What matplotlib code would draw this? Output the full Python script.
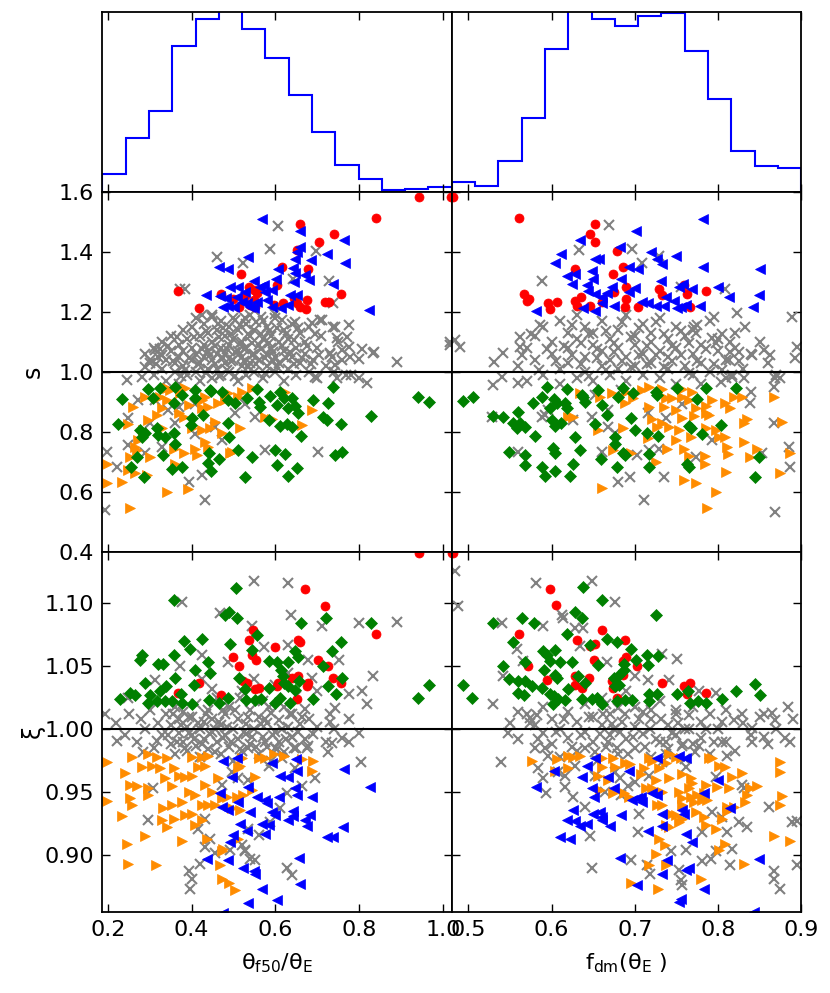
import numpy as np
import matplotlib
matplotlib.use('Agg')
import matplotlib.pyplot as plt

# ---------------- histogram values (normalised frequency per bin) ----------------
hist_theta = [0.096, 0.298, 0.448, 0.811, 0.959, 1.02, 0.902, 0.743, 0.539, 0.330,
              0.146, 0.069, 0.009, 0.017, 0.028]
hist_fdm = [0.056, 0.033, 0.172, 0.407, 0.791, 1.02, 0.959, 0.919, 0.974, 0.994,
            0.781, 0.515, 0.226, 0.143, 0.130]

# ---------------- panel: s vs theta_f50/theta_E ----------------
A_red = [(0.943,1.584),(1.019,1.584),(0.840,1.511),(0.660,1.494),(0.740,1.459),(0.704,1.432),
         (0.651,1.405),(0.616,1.348),(0.678,1.341),(0.519,1.326),(0.604,1.289),(0.368,1.270),
         (0.470,1.259),(0.537,1.281),(0.548,1.272),(0.556,1.261),(0.528,1.252),(0.500,1.241),
         (0.548,1.239),(0.552,1.217),(0.514,1.217),(0.618,1.228),(0.645,1.245),(0.651,1.230),
         (0.658,1.217),(0.673,1.208),(0.675,1.239),(0.719,1.233),(0.728,1.233),(0.756,1.259),
         (0.417,1.211),(0.596,1.222),(0.540,1.222)]
A_blue = [(0.569,1.509),(0.658,1.470),(0.763,1.439),(0.766,1.364),(0.723,1.392),(0.658,1.415),
          (0.653,1.400),(0.646,1.376),(0.643,1.345),(0.647,1.330),(0.644,1.300),(0.607,1.341),
          (0.602,1.310),(0.535,1.383),(0.465,1.350),(0.486,1.343),(0.685,1.372),(0.680,1.306),
          (0.671,1.322),(0.739,1.292),(0.550,1.303),(0.573,1.289),(0.564,1.283),(0.492,1.283),
          (0.512,1.281),(0.528,1.267),(0.591,1.272),(0.576,1.267),(0.435,1.255),(0.468,1.252),
          (0.483,1.245),(0.508,1.250),(0.521,1.233),(0.532,1.228),(0.556,1.233),(0.474,1.217),
          (0.488,1.219),(0.502,1.217),(0.540,1.217),(0.548,1.211),(0.591,1.217),(0.613,1.211),
          (0.631,1.222),(0.653,1.256),(0.825,1.206),(0.580,1.239),(0.635,1.256)]
A_green = [(0.233,0.908),(0.225,0.825),(0.297,0.943),(0.325,0.945),(0.309,0.911),(0.357,0.895),
           (0.377,0.922),(0.409,0.939),(0.409,0.911),(0.444,0.939),(0.472,0.933),(0.488,0.906),
           (0.504,0.895),(0.532,0.913),(0.556,0.941),(0.560,0.900),(0.564,0.881),(0.588,0.919),
           (0.604,0.889),(0.612,0.933),(0.620,0.911),(0.639,0.911),(0.630,0.878),(0.647,0.886),
           (0.655,0.861),(0.691,0.906),(0.727,0.897),(0.737,0.948),(0.715,0.848),(0.723,0.839),
           (0.757,0.826),(0.829,0.852),(0.942,0.917),(0.967,0.900),(0.428,0.856),(0.400,0.845),
           (0.399,0.822),(0.487,0.828),(0.490,0.783),(0.512,0.739),(0.544,0.717),(0.600,0.739),
           (0.623,0.726),(0.604,0.689),(0.630,0.652),(0.652,0.680),(0.528,0.650),(0.612,0.819),
           (0.628,0.826),(0.639,0.817),(0.661,0.786),(0.584,0.839),(0.442,0.728),(0.447,0.670),
           (0.440,0.695),(0.466,0.708),(0.378,0.683),(0.353,0.675),(0.361,0.759),(0.359,0.797),
           (0.337,0.783),(0.333,0.722),(0.317,0.811),(0.321,0.789),(0.289,0.795),(0.277,0.806),
           (0.281,0.783),(0.269,0.717),(0.256,0.683),(0.287,0.648),(0.743,0.722),(0.759,0.733),
           (0.361,0.948),(0.446,0.937)]
A_orange = [(0.289,0.917),(0.261,0.881),(0.249,0.826),(0.198,0.694),(0.198,0.628),(0.233,0.633),
            (0.253,0.545),(0.341,0.600),(0.391,0.609),(0.293,0.656),(0.249,0.672),(0.264,0.661),
            (0.253,0.717),(0.269,0.739),(0.301,0.717),(0.297,0.839),(0.317,0.856),(0.329,0.878),
            (0.341,0.906),(0.341,0.945),(0.317,0.911),(0.385,0.945),(0.393,0.889),(0.424,0.906),
            (0.432,0.917),(0.424,0.878),(0.440,0.883),(0.464,0.895),(0.480,0.906),(0.488,0.928),
            (0.520,0.933),(0.512,0.917),(0.369,0.861),(0.381,0.850),(0.400,0.811),(0.424,0.806),
            (0.444,0.811),(0.456,0.833),(0.472,0.795),(0.496,0.733),(0.492,0.728),(0.408,0.744),
            (0.412,0.722),(0.357,0.744),(0.361,0.694),(0.383,0.728),(0.432,0.767),(0.440,0.750),
            (0.516,0.811),(0.576,0.850),(0.592,0.844),(0.663,0.822),(0.687,0.872),(0.623,0.933),
            (0.544,0.945),(0.329,0.811),(0.285,0.806),(0.273,0.772),(0.265,0.750),(0.373,0.928),
            (0.349,0.939),(0.325,0.917)]
A_gray = [(0.29,1.06),(0.30,1.03),(0.31,1.08),(0.31,0.99),(0.32,1.05),(0.33,1.01),(0.33,1.10),
          (0.34,1.04),(0.34,0.97),(0.35,1.07),(0.35,1.12),(0.36,1.00),(0.36,1.03),(0.37,1.09),
          (0.37,1.05),(0.37,0.96),(0.38,1.14),(0.38,1.02),(0.38,1.07),(0.39,0.99),(0.39,1.11),
          (0.40,1.04),(0.40,1.15),(0.40,1.08),(0.41,1.00),(0.41,1.06),(0.41,1.18),(0.42,1.12),
          (0.42,1.03),(0.42,0.97),(0.43,1.09),(0.43,1.05),(0.43,1.16),(0.44,1.01),(0.44,1.13),
          (0.44,1.07),(0.45,0.98),(0.45,1.10),(0.45,1.04),(0.45,1.19),(0.46,1.06),(0.46,1.14),
          (0.46,1.01),(0.47,1.08),(0.47,1.17),(0.47,0.99),(0.48,1.03),(0.48,1.12),(0.48,1.06),
          (0.49,1.15),(0.49,1.00),(0.49,1.09),(0.50,1.04),(0.50,1.18),(0.50,1.11),(0.51,0.97),
          (0.51,1.07),(0.51,1.14),(0.52,1.02),(0.52,1.10),(0.52,1.05),(0.53,1.16),(0.53,0.99),
          (0.53,1.08),(0.54,1.12),(0.54,1.03),(0.54,1.19),(0.55,1.06),(0.55,1.00),(0.55,1.14),
          (0.56,1.09),(0.56,1.04),(0.57,1.17),(0.57,0.98),(0.57,1.11),(0.58,1.06),(0.58,1.02),
          (0.58,1.15),(0.59,1.08),(0.59,1.12),(0.60,1.00),(0.60,1.05),(0.60,1.18),(0.61,1.10),
          (0.61,1.03),(0.62,1.14),(0.62,1.07),(0.62,0.97),(0.63,1.01),(0.63,1.11),(0.64,1.05),
          (0.64,1.16),(0.65,1.08),(0.65,0.99),(0.66,1.13),(0.66,1.03),(0.67,1.06),(0.67,1.10),
          (0.68,1.00),(0.68,1.15),(0.69,1.04),(0.70,1.08),(0.70,0.98),(0.71,1.12),(0.72,1.02),
          (0.73,1.06),(0.74,1.00),(0.75,1.10),(0.76,1.04),(0.77,0.99),
          (0.385,1.005),(0.395,1.045),(0.405,1.115),(0.415,1.025),(0.425,1.075),(0.435,0.995),
          (0.435,1.135),(0.445,1.055),(0.455,1.085),(0.455,1.025),(0.465,1.115),(0.465,0.985),
          (0.475,1.045),(0.475,1.145),(0.485,1.075),(0.485,1.005),(0.495,1.125),(0.495,1.035),
          (0.505,1.065),(0.505,0.985),(0.515,1.095),(0.515,1.155),(0.525,1.035),(0.525,1.075),
          (0.535,1.125),(0.535,1.015),(0.545,1.055),(0.545,1.095),(0.555,1.165),(0.555,1.025),
          (0.565,1.075),(0.565,1.125),(0.575,1.045),(0.575,0.995),(0.585,1.095),(0.585,1.135),
          (0.595,1.035),(0.595,1.065),(0.605,1.145),(0.605,1.015),(0.615,1.085),(0.625,1.045),
          (0.625,1.125),(0.635,1.065),(0.645,1.025),(0.645,1.105),(0.655,1.145),(0.665,1.045),
          (0.675,1.085),(0.685,1.025),(0.695,1.125),(0.705,1.055),(0.355,1.035),(0.345,1.085),
          (0.365,1.115),(0.325,1.075),(0.315,1.025),(0.375,0.985),
          (0.607,1.487),(0.588,1.410),(0.462,1.383),(0.524,1.361),(0.697,1.403),(0.729,1.303),
          (0.373,1.275),(0.385,1.275),(0.643,1.310),(0.737,1.228),(1.017,1.100),(1.017,1.089),
          (0.890,1.033),(0.834,1.063),(0.775,1.156),(0.771,1.117),(0.747,1.111),(0.739,1.150),
          (0.708,1.172),(0.731,1.061),(0.779,1.050),(0.806,1.075),
          (0.245,0.972),(0.281,0.983),(0.273,0.906),(0.249,0.845),(0.198,0.733),(0.221,0.683),
          (0.249,0.756),(0.194,0.539),(0.432,0.572),(0.393,0.633),(0.424,0.656),(0.576,0.739),
          (0.703,0.733),(0.819,0.961),(0.799,0.978),(0.747,0.978),(0.695,0.983),(0.743,1.022),
          (0.313,0.906),(0.345,0.872),(0.369,0.883),(0.408,0.894),(0.504,0.861),(0.528,0.894),
          (0.552,0.850),(0.472,0.772),(0.408,0.794),(0.361,0.828),(0.456,0.817),(0.329,0.750),
          (0.289,0.728),(0.300,0.830),(0.400,1.150),(0.424,1.189),(0.448,1.183),(0.464,1.160),
          (0.504,1.172),(0.528,1.178),(0.567,1.183),(0.600,1.194),(0.616,1.172),(0.647,1.167),
          (0.687,1.161),(0.711,1.172),(0.743,1.150),(0.313,1.072),(0.329,1.056),(0.301,1.039),
          (0.289,1.017),(0.735,1.050),(0.759,1.072),(0.775,1.083),(0.835,1.067),(0.799,1.044),
          (0.780,0.990)]

# ---------------- panel: s vs f_dm ----------------
B_red = [(0.482,1.583),(0.561,1.511),(0.652,1.494),(0.646,1.459),(0.652,1.433),(0.678,1.403),
         (0.686,1.349),(0.628,1.341),(0.674,1.325),(0.567,1.259),(0.573,1.241),(0.571,1.235),
         (0.596,1.230),(0.598,1.209),(0.606,1.233),(0.628,1.236),(0.635,1.248),(0.630,1.219),
         (0.646,1.220),(0.675,1.265),(0.690,1.281),(0.690,1.241),(0.688,1.217),(0.704,1.215),
         (0.729,1.275),(0.733,1.256),(0.759,1.289),(0.763,1.259),(0.766,1.215),(0.786,1.270),
         (0.661,1.233)]
B_blue = [(0.782,1.509),(0.702,1.469),(0.634,1.438),(0.611,1.392),(0.604,1.364),(0.682,1.415),
          (0.720,1.398),(0.727,1.375),(0.733,1.359),(0.750,1.385),(0.782,1.350),(0.851,1.342),
          (0.652,1.376),(0.657,1.376),(0.648,1.335),(0.650,1.308),(0.628,1.326),(0.619,1.318),
          (0.624,1.292),(0.642,1.289),(0.644,1.269),(0.693,1.348),(0.704,1.341),(0.684,1.310),
          (0.732,1.302),(0.700,1.280),(0.693,1.267),(0.672,1.283),(0.666,1.261),(0.661,1.250),
          (0.652,1.259),(0.753,1.283),(0.758,1.291),(0.769,1.276),(0.800,1.281),(0.813,1.248),
          (0.849,1.256),(0.842,1.215),(0.778,1.219),(0.761,1.222),(0.755,1.215),(0.751,1.212),
          (0.747,1.236),(0.738,1.248),(0.735,1.220),(0.726,1.220),(0.716,1.228),(0.709,1.233),
          (0.675,1.220),(0.652,1.203),(0.638,1.211),(0.581,1.203),(0.660,1.228)]
B_green = [(0.494,0.902),(0.505,0.917),(0.530,0.853),(0.542,0.850),(0.554,0.828),(0.560,0.867),
           (0.562,0.828),(0.568,0.817),(0.558,0.811),(0.578,0.897),(0.580,0.786),(0.588,0.917),
           (0.594,0.948),(0.598,0.878),(0.603,0.908),(0.606,0.895),(0.616,0.895),(0.618,0.878),
           (0.600,0.839),(0.604,0.819),(0.611,0.830),(0.618,0.941),(0.638,0.917),(0.640,0.900),
           (0.636,0.922),(0.660,0.889),(0.656,0.939),(0.666,0.856),(0.652,0.826),(0.676,0.783),
           (0.676,0.759),(0.686,0.945),(0.680,0.917),(0.696,0.845),(0.700,0.806),(0.698,0.928),
           (0.715,0.795),(0.728,0.786),(0.725,0.933),(0.727,0.922),(0.751,0.945),(0.765,0.819),
           (0.767,0.811),(0.775,0.910),(0.781,0.794),(0.786,0.945),(0.804,0.822),(0.822,0.946),
           (0.849,0.717),(0.844,0.648),(0.765,0.683),(0.763,0.694),(0.717,0.683),(0.717,0.726),
           (0.686,0.730),(0.688,0.722),(0.678,0.683),(0.659,0.709),(0.634,0.739),(0.628,0.783),
           (0.626,0.694),(0.622,0.652),(0.604,0.669),(0.592,0.652),(0.588,0.683),(0.568,0.689),
           (0.568,0.722),(0.549,0.733),(0.604,0.728),(0.602,0.745)]
B_orange = [(0.660,0.611),(0.787,0.545),(0.797,0.600),(0.759,0.639),(0.773,0.630),(0.810,0.667),
            (0.874,0.661),(0.887,0.728),(0.839,0.717),(0.847,0.741),(0.831,0.767),(0.811,0.750),
            (0.812,0.726),(0.784,0.719),(0.784,0.694),(0.765,0.719),(0.759,0.741),(0.749,0.772),
            (0.739,0.744),(0.725,0.700),(0.674,0.739),(0.696,0.728),(0.656,0.806),(0.686,0.814),
            (0.721,0.844),(0.727,0.817),(0.733,0.828),(0.741,0.817),(0.753,0.806),(0.767,0.783),
            (0.785,0.811),(0.801,0.783),(0.797,0.806),(0.809,0.783),(0.835,0.844),(0.831,0.828),
            (0.877,0.833),(0.867,0.915),(0.829,0.915),(0.819,0.915),(0.809,0.895),(0.815,0.878),
            (0.793,0.906),(0.785,0.886),(0.785,0.861),(0.773,0.878),(0.765,0.906),(0.757,0.917),
            (0.769,0.933),(0.757,0.941),(0.745,0.911),(0.749,0.872),(0.735,0.883),(0.737,0.911),
            (0.717,0.883),(0.709,0.939),(0.717,0.948),(0.733,0.944),(0.698,0.911),(0.688,0.895),
            (0.690,0.933),(0.672,0.928),(0.658,0.917),(0.634,0.928),(0.620,0.850),(0.626,0.850),
            (0.757,0.845),(0.771,0.852),(0.789,0.856),(0.716,0.778)]
B_gray = [(0.56,1.02),(0.57,1.08),(0.57,0.97),(0.58,1.12),(0.58,1.04),(0.59,0.99),(0.59,1.15),
          (0.60,1.06),(0.60,1.10),(0.61,1.01),(0.61,1.17),(0.61,0.96),(0.62,1.08),(0.62,1.13),
          (0.62,1.03),(0.63,0.98),(0.63,1.11),(0.63,1.19),(0.64,1.05),(0.64,1.15),(0.64,1.00),
          (0.65,1.09),(0.65,1.13),(0.65,0.97),(0.66,1.02),(0.66,1.07),(0.66,1.17),(0.67,1.11),
          (0.67,0.99),(0.67,1.04),(0.68,1.14),(0.68,1.08),(0.68,1.01),(0.69,1.19),(0.69,1.05),
          (0.69,0.97),(0.70,1.12),(0.70,1.02),(0.70,1.09),(0.71,1.16),(0.71,1.06),(0.71,0.99),
          (0.72,1.03),(0.72,1.13),(0.72,1.10),(0.73,1.07),(0.73,0.98),(0.73,1.18),(0.74,1.01),
          (0.74,1.11),(0.74,1.05),(0.75,1.15),(0.75,0.96),(0.75,1.08),(0.76,1.02),(0.76,1.12),
          (0.77,1.06),(0.77,0.99),(0.77,1.14),(0.78,1.09),(0.78,1.03),(0.79,1.17),(0.79,1.00),
          (0.80,1.07),(0.80,1.11),(0.81,1.04),(0.81,0.98),(0.82,1.13),(0.82,1.08),(0.83,1.01),
          (0.84,1.06),(0.85,1.10),(0.86,1.03),(0.87,0.99),
          (0.605,1.035),(0.615,1.085),(0.625,1.055),(0.625,1.155),(0.635,1.025),(0.635,1.095),
          (0.645,1.125),(0.645,0.985),(0.655,1.045),(0.655,1.075),(0.665,1.135),(0.665,1.005),
          (0.675,1.065),(0.675,1.095),(0.685,1.035),(0.685,1.165),(0.695,1.115),(0.695,1.015),
          (0.705,1.055),(0.705,1.145),(0.715,1.085),(0.715,1.025),(0.725,1.055),(0.725,1.165),
          (0.735,1.125),(0.735,1.015),(0.745,1.085),(0.745,1.035),(0.755,1.135),(0.755,1.055),
          (0.765,0.995),(0.765,1.095),(0.775,1.035),(0.775,1.155),(0.785,1.075),(0.795,1.025),
          (0.805,1.125),(0.585,1.005),(0.595,1.075),(0.575,1.125),(0.565,1.055),(0.815,1.065),
          (0.825,1.035),
          (0.669,1.488),(0.633,1.406),(0.697,1.410),(0.589,1.303),(0.709,1.364),(0.729,1.386),
          (0.755,1.283),(0.809,1.275),(0.823,1.197),(0.833,1.150),(0.889,1.183),(0.895,1.083),
          (0.484,1.106),(0.490,1.083),(0.531,1.033),(0.542,1.061),(0.562,1.083),(0.586,1.156),
          (0.795,1.183),(0.773,1.128),(0.793,1.111),(0.562,1.117),(0.771,1.150),(0.797,1.095),
          (0.815,1.100),(0.825,1.067),(0.813,1.039),(0.805,1.006),(0.817,0.989),(0.855,1.072),
          (0.863,1.056),(0.841,1.056),(0.893,1.045),
          (0.530,0.956),(0.540,0.983),(0.560,0.961),(0.588,0.850),(0.626,0.839),(0.660,0.733),
          (0.680,0.633),(0.694,0.650),(0.711,0.572),(0.735,0.650),(0.703,0.722),(0.717,0.739),
          (0.773,0.717),(0.853,0.728),(0.885,0.750),(0.887,0.683),(0.869,0.533),(0.867,0.828),
          (0.867,0.950),(0.869,0.978),(0.875,0.978),(0.839,0.895),(0.831,0.978),(0.793,0.772),
          (0.729,0.744),(0.676,0.795),(0.668,0.817),(0.648,0.850),(0.668,0.872),(0.596,0.872),
          (0.592,0.856),(0.652,0.922),(0.684,0.939),(0.716,0.861),(0.737,0.845),(0.757,0.894),
          (0.560,0.733),(0.528,0.850),(0.804,0.966),(0.817,0.984),(0.780,0.960),(0.840,0.933)]

# ---------------- panel: xi vs theta_f50/theta_E ----------------
C_red = [(0.944,1.140),(1.021,1.140),(0.671,1.111),(0.719,1.098),(0.841,1.076),(0.547,1.079),
         (0.538,1.071),(0.498,1.057),(0.544,1.059),(0.553,1.055),(0.600,1.065),(0.655,1.071),
         (0.659,1.069),(0.703,1.055),(0.727,1.050),(0.739,1.041),(0.757,1.037),(0.514,1.050),
         (0.522,1.038),(0.532,1.037),(0.418,1.037),(0.367,1.029),(0.471,1.027),(0.552,1.032),
         (0.561,1.033),(0.604,1.034),(0.639,1.041),(0.655,1.042),(0.675,1.034),(0.679,1.037),
         (0.651,1.024),(0.606,1.037)]
C_green = [(0.357,1.103),(0.506,1.112),(0.480,1.091),(0.490,1.093),(0.508,1.088),(0.557,1.075),
           (0.492,1.068),(0.544,1.063),(0.426,1.072),(0.381,1.070),(0.397,1.064),(0.358,1.059),
           (0.281,1.059),(0.277,1.055),(0.321,1.052),(0.333,1.052),(0.409,1.047),(0.440,1.053),
           (0.444,1.045),(0.361,1.041),(0.288,1.037),(0.338,1.034),(0.325,1.030),(0.407,1.035),
           (0.375,1.028),(0.378,1.021),(0.401,1.020),(0.353,1.022),(0.337,1.022),(0.317,1.022),
           (0.301,1.027),(0.297,1.021),(0.253,1.029),(0.265,1.027),(0.229,1.024),(0.442,1.023),
           (0.466,1.021),(0.487,1.025),(0.514,1.041),(0.528,1.032),(0.530,1.023),(0.552,1.023),
           (0.566,1.024),(0.585,1.033),(0.584,1.054),(0.605,1.053),(0.614,1.047),(0.618,1.042),
           (0.631,1.053),(0.647,1.062),(0.655,1.057),(0.661,1.084),(0.721,1.088),(0.757,1.069),
           (0.735,1.062),(0.715,1.050),(0.727,1.034),(0.745,1.028),(0.759,1.041),(0.691,1.024),
           (0.657,1.038),(0.647,1.031),(0.631,1.034),(0.635,1.021),(0.600,1.021),(0.612,1.025),
           (0.620,1.037),(0.829,1.084),(0.942,1.025),(0.967,1.035)]
C_orange = [(0.198,0.974),(0.198,0.943),(0.241,0.965),(0.253,0.956),(0.269,0.955),(0.253,0.945),
            (0.257,0.940),(0.233,0.931),(0.288,0.915),(0.247,0.909),(0.249,0.893),(0.315,0.892),
            (0.378,0.911),(0.341,0.922),(0.329,0.928),(0.297,0.953),(0.297,0.948),(0.305,0.971),
            (0.281,0.970),(0.257,0.978),(0.297,0.980),(0.317,0.978),(0.341,0.977),(0.325,0.969),
            (0.337,0.961),(0.357,0.969),(0.353,0.955),(0.369,0.963),(0.385,0.962),(0.393,0.950),
            (0.400,0.978),(0.416,0.970),(0.432,0.971),(0.424,0.978),(0.440,0.979),(0.400,0.963),
            (0.408,0.948),(0.424,0.940),(0.377,0.942),(0.353,0.940),(0.333,0.937),(0.385,0.932),
            (0.408,0.924),(0.424,0.928),(0.400,0.933),(0.357,0.929),(0.432,0.956),(0.440,0.940),
            (0.456,0.940),(0.472,0.945),(0.484,0.946),(0.496,0.937),(0.464,0.961),(0.448,0.950),
            (0.436,0.913),(0.472,0.903),(0.475,0.905),(0.468,0.892),(0.472,0.881),(0.490,0.878),
            (0.504,0.872),(0.512,0.969),(0.516,0.971),(0.524,0.948),(0.544,0.952),(0.552,0.962),
            (0.560,0.977),(0.576,0.977),(0.596,0.980),(0.620,0.979),(0.663,0.976),(0.691,0.975),
            (0.687,0.967),(0.520,0.977),(0.508,0.946),(0.512,0.913),(0.516,0.936)]
C_blue = [(0.476,0.975),(0.508,0.977),(0.592,0.973),(0.650,0.976),(0.651,0.967),(0.631,0.962),
          (0.612,0.963),(0.765,0.968),(0.826,0.954),(0.496,0.962),(0.536,0.954),(0.468,0.949),
          (0.512,0.942),(0.556,0.946),(0.576,0.944),(0.580,0.941),(0.608,0.946),(0.646,0.953),
          (0.651,0.948),(0.687,0.946),(0.472,0.938),(0.488,0.936),(0.540,0.934),(0.592,0.934),
          (0.600,0.932),(0.643,0.935),(0.643,0.931),(0.631,0.928),(0.682,0.932),(0.671,0.928),
          (0.675,0.923),(0.568,0.925),(0.584,0.924),(0.516,0.925),(0.532,0.919),(0.576,0.917),
          (0.500,0.916),(0.492,0.910),(0.436,0.897),(0.488,0.896),(0.522,0.890),(0.548,0.887),
          (0.552,0.885),(0.657,0.898),(0.658,0.877),(0.568,0.873),(0.604,0.864),(0.534,0.862),
          (0.476,0.854),(0.723,0.914),(0.739,0.914),(0.761,0.922)]
C_gray = [(0.22,1.005),(0.24,0.995),(0.25,1.012),(0.27,0.990),(0.28,1.008),(0.29,1.000),
          (0.30,1.015),(0.31,0.985),(0.32,1.005),(0.33,0.995),(0.34,1.012),(0.35,0.988),
          (0.35,1.003),(0.36,0.980),(0.36,1.018),(0.37,0.997),(0.37,1.008),(0.38,0.990),
          (0.38,1.014),(0.39,0.983),(0.39,1.002),(0.40,0.995),(0.40,1.010),(0.41,0.987),
          (0.41,1.020),(0.42,1.000),(0.42,0.978),(0.43,1.006),(0.43,0.992),(0.44,1.015),
          (0.44,0.984),(0.45,0.998),(0.45,1.008),(0.46,0.990),(0.46,1.025),(0.47,1.003),
          (0.47,0.980),(0.48,1.012),(0.48,0.995),(0.49,0.986),(0.49,1.018),(0.50,1.000),
          (0.50,0.975),(0.51,1.008),(0.51,0.992),(0.52,1.030),(0.52,0.983),(0.53,1.004),
          (0.53,0.996),(0.54,1.015),(0.54,0.988),(0.55,1.000),(0.55,1.040),(0.56,0.980),
          (0.56,1.010),(0.57,0.994),(0.57,1.022),(0.58,1.005),(0.58,0.986),(0.59,1.013),
          (0.59,0.975),(0.60,0.998),(0.60,1.035),(0.61,1.007),(0.61,0.990),(0.62,1.018),
          (0.62,0.982),(0.63,1.002),(0.63,1.045),(0.64,0.994),(0.64,1.012),(0.65,1.026),
          (0.65,0.985),(0.66,1.004),(0.67,0.992),(0.67,1.016),(0.68,1.008),(0.69,0.996),
          (0.70,1.030),(0.70,1.002),(0.72,0.990),(0.73,1.012),(0.74,1.000),(0.76,0.993),
          (0.345,0.995),(0.355,1.012),(0.365,0.990),(0.375,1.003),(0.385,0.985),(0.395,1.010),
          (0.405,0.992),(0.415,1.005),(0.425,0.988),(0.435,1.012),(0.445,0.996),(0.455,0.982),
          (0.465,1.006),(0.475,0.993),(0.485,1.002),(0.495,0.990),(0.505,1.015),(0.515,0.984),
          (0.525,0.998),(0.535,1.010),(0.545,0.994),(0.555,0.986),(0.565,1.004),(0.575,0.990),
          (0.585,1.018),(0.595,0.995),(0.605,0.984),(0.615,1.000),(0.625,0.992),(0.635,1.012),
          (0.645,0.985),(0.655,0.998),(0.665,1.010),(0.675,0.985),(0.455,1.000),(0.475,1.015),
          (0.395,0.997),(0.535,0.985),(0.575,1.008),(0.515,1.025),
          (0.550,1.118),(0.630,1.116),(0.377,1.101),(0.468,1.092),(0.638,1.091),(0.711,1.082),
          (0.544,1.082),(0.800,1.084),(0.890,1.085),(0.572,1.065),(0.631,1.067),(0.679,1.055),
          (0.751,1.055),(0.834,1.042),(0.807,1.030),(0.819,1.020),(0.775,1.028),(0.743,1.017),
          (0.775,1.008),(0.731,1.006),(0.687,1.041),(0.424,1.059),(0.373,1.050),(0.313,1.039),
          (0.249,1.025),(0.194,1.012),(0.424,1.040),(0.488,1.053),(0.448,1.032),
          (0.221,0.991),(0.317,0.991),(0.285,0.982),(0.679,0.987),(0.727,0.982),(0.735,0.989),
          (0.775,0.990),(0.799,0.997),(0.805,0.974),(0.695,0.961),(0.663,0.955),(0.627,0.949),
          (0.612,0.937),(0.588,0.926),(0.560,0.916),(0.536,0.921),(0.520,0.908),(0.528,0.903),
          (0.540,0.897),(0.552,0.896),(0.627,0.890),(0.639,0.884),(0.432,0.929),(0.416,0.921),
          (0.444,0.913),(0.432,0.906),(0.420,0.893),(0.393,0.887),(0.401,0.881),(0.397,0.873),
          (0.297,0.928),(0.309,0.953),(0.472,0.956),(0.496,0.966),(0.512,0.961),(0.536,0.960),
          (0.584,0.971),(0.616,0.977),(0.647,0.969),(0.492,0.904),(0.528,0.904),(0.456,0.902),
          (0.640,0.994),(0.600,0.985)]

# ---------------- panel: xi vs f_dm ----------------
D_red = [(0.481,1.140),(0.598,1.111),(0.605,1.099),(0.561,1.076),(0.630,1.071),(0.646,1.066),
         (0.652,1.068),(0.660,1.079),(0.688,1.071),(0.651,1.055),(0.689,1.057),(0.686,1.054),
         (0.703,1.050),(0.572,1.050),(0.628,1.042),(0.645,1.041),(0.595,1.039),(0.628,1.035),
         (0.636,1.033),(0.672,1.038),(0.674,1.033),(0.686,1.043),(0.678,1.025),(0.733,1.037),
         (0.759,1.034),(0.766,1.037),(0.763,1.028),(0.786,1.029)]
D_green = [(0.494,1.035),(0.504,1.025),(0.529,1.084),(0.565,1.088),(0.579,1.084),(0.638,1.113),
           (0.660,1.103),(0.725,1.091),(0.628,1.093),(0.636,1.088),(0.619,1.076),(0.554,1.069),
           (0.542,1.050),(0.549,1.040),(0.568,1.053),(0.590,1.062),(0.594,1.059),(0.604,1.063),
           (0.598,1.054),(0.610,1.053),(0.625,1.053),(0.646,1.067),(0.666,1.072),(0.678,1.069),
           (0.695,1.064),(0.701,1.055),(0.715,1.059),(0.728,1.058),(0.716,1.051),(0.656,1.051),
           (0.687,1.052),(0.687,1.047),(0.591,1.047),(0.604,1.043),(0.606,1.041),(0.632,1.042),
           (0.640,1.037),(0.675,1.041),(0.681,1.035),(0.560,1.038),(0.568,1.038),(0.576,1.034),
           (0.588,1.033),(0.560,1.029),(0.567,1.027),(0.598,1.028),(0.603,1.026),(0.620,1.032),
           (0.636,1.024),(0.648,1.024),(0.654,1.025),(0.660,1.020),(0.608,1.024),(0.616,1.023),
           (0.602,1.020),(0.678,1.022),(0.688,1.023),(0.697,1.023),(0.717,1.028),(0.727,1.028),
           (0.717,1.022),(0.751,1.028),(0.764,1.030),(0.766,1.021),(0.776,1.022),(0.785,1.021),
           (0.805,1.024),(0.822,1.030),(0.844,1.036),(0.850,1.027),(0.680,1.042),(0.676,1.034)]
D_orange = [(0.577,0.975),(0.606,0.976),(0.620,0.979),(0.626,0.978),(0.634,0.979),(0.604,0.967),
            (0.620,0.969),(0.660,0.977),(0.661,0.970),(0.674,0.977),(0.676,0.970),(0.688,0.973),
            (0.694,0.972),(0.656,0.963),(0.668,0.960),(0.658,0.952),(0.674,0.949),(0.687,0.949),
            (0.693,0.946),(0.708,0.964),(0.711,0.969),(0.717,0.977),(0.721,0.975),(0.729,0.969),
            (0.737,0.973),(0.741,0.980),(0.749,0.978),(0.755,0.977),(0.713,0.953),(0.721,0.953),
            (0.733,0.950),(0.727,0.940),(0.733,0.940),(0.725,0.960),(0.741,0.961),(0.757,0.964),
            (0.767,0.961),(0.769,0.957),(0.765,0.953),(0.753,0.950),(0.757,0.945),(0.767,0.946),
            (0.775,0.948),(0.771,0.942),(0.781,0.944),(0.787,0.944),(0.757,0.940),(0.749,0.932),
            (0.743,0.933),(0.757,0.929),(0.753,0.926),(0.741,0.922),(0.737,0.924),(0.773,0.934),
            (0.783,0.930),(0.785,0.924),(0.797,0.921),(0.785,0.956),(0.783,0.949),(0.789,0.977),
            (0.793,0.977),(0.801,0.971),(0.809,0.970),(0.799,0.954),(0.813,0.953),(0.817,0.962),
            (0.829,0.965),(0.839,0.953),(0.847,0.955),(0.835,0.948),(0.833,0.942),(0.811,0.938),
            (0.811,0.935),(0.819,0.938),(0.805,0.929),(0.875,0.974),(0.875,0.966),(0.877,0.947),
            (0.874,0.940),(0.867,0.915),(0.887,0.911),(0.831,0.893),(0.809,0.909),(0.801,0.904),
            (0.780,0.881),(0.728,0.873),(0.695,0.878),(0.717,0.892),(0.725,0.901),(0.736,0.908),
            (0.729,0.913),(0.737,0.892)]
D_blue = [(0.581,0.954),(0.603,0.967),(0.637,0.962),(0.642,0.971),(0.652,0.977),(0.668,0.962),
          (0.675,0.953),(0.693,0.967),(0.649,0.953),(0.651,0.946),(0.697,0.944),(0.703,0.945),
          (0.709,0.942),(0.708,0.946),(0.721,0.949),(0.727,0.948),(0.626,0.936),(0.618,0.928),
          (0.628,0.927),(0.634,0.923),(0.642,0.925),(0.650,0.933),(0.658,0.934),(0.660,0.930),
          (0.660,0.928),(0.670,0.923),(0.684,0.932),(0.610,0.914),(0.622,0.913),(0.682,0.898),
          (0.716,0.919),(0.733,0.933),(0.733,0.923),(0.757,0.936),(0.759,0.933),(0.761,0.917),
          (0.769,0.910),(0.739,0.896),(0.733,0.885),(0.761,0.888),(0.765,0.890),(0.703,0.876),
          (0.783,0.873),(0.753,0.863),(0.755,0.865),(0.800,0.960),(0.815,0.937),(0.849,0.897),
          (0.843,0.855),(0.783,0.949),(0.761,0.977),(0.753,0.979),(0.727,0.977)]
D_gray = [(0.55,1.005),(0.56,0.992),(0.57,1.012),(0.58,0.985),(0.58,1.003),(0.59,0.997),
          (0.59,1.018),(0.60,0.988),(0.60,1.008),(0.61,0.978),(0.61,1.000),(0.62,1.014),
          (0.62,0.993),(0.63,1.006),(0.63,0.983),(0.64,1.020),(0.64,0.998),(0.65,0.990),
          (0.65,1.010),(0.655,0.975),(0.66,1.003),(0.66,1.025),(0.665,0.986),(0.67,1.012),
          (0.67,0.995),(0.675,1.000),(0.68,0.980),(0.68,1.017),(0.685,1.006),(0.69,0.992),
          (0.69,1.030),(0.70,1.002),(0.70,0.985),(0.71,1.014),(0.71,0.996),(0.72,1.008),
          (0.72,0.978),(0.73,0.990),(0.73,1.022),(0.74,1.003),(0.74,0.984),(0.75,1.012),
          (0.75,0.995),(0.76,1.000),(0.76,0.976),(0.77,1.018),(0.77,0.988),(0.78,1.006),
          (0.78,0.993),(0.79,0.980),(0.79,1.012),(0.80,1.000),(0.81,0.990),(0.81,1.015),
          (0.82,0.983),(0.83,1.005),(0.84,0.995),(0.85,1.010),(0.86,0.988),(0.87,1.000),
          (0.88,0.993),(0.89,1.008),
          (0.605,0.998),(0.615,1.008),(0.625,0.986),(0.635,0.995),(0.645,1.010),(0.652,0.982),
          (0.658,0.996),(0.662,1.012),(0.668,0.990),(0.672,1.004),(0.678,0.985),(0.682,0.998),
          (0.688,1.012),(0.692,0.980),(0.698,0.994),(0.705,1.008),(0.712,0.986),(0.718,1.000),
          (0.725,0.992),(0.732,1.008),(0.738,0.980),(0.745,0.997),(0.752,1.005),(0.758,0.988),
          (0.765,1.000),(0.772,0.982),(0.785,1.000),(0.795,0.990),(0.665,1.020),(0.640,0.985),
          (0.700,1.018),(0.720,1.015),
          (0.484,1.126),(0.581,1.116),(0.649,1.118),(0.676,1.101),(0.540,1.084),(0.590,1.082),
          (0.612,1.091),(0.614,1.088),(0.628,1.080),(0.638,1.080),(0.634,1.066),(0.558,1.064),
          (0.566,1.054),(0.488,1.098),(0.530,1.020),(0.542,1.042),(0.666,1.053),(0.733,1.060),
          (0.751,1.056),(0.700,1.042),(0.716,1.039),(0.741,1.039),(0.777,1.030),(0.797,1.029),
          (0.829,1.012),(0.855,1.012),(0.865,1.013),(0.869,1.007),(0.884,1.018),(0.841,1.001),
          (0.805,1.006),(0.819,1.007),(0.765,1.011),(0.749,1.015),(0.560,1.014),(0.574,1.009),
          (0.582,1.011),(0.574,1.005),
          (0.548,0.997),(0.539,0.974),(0.584,0.992),(0.592,0.985),(0.596,0.979),(0.590,0.961),
          (0.593,0.949),(0.626,0.946),(0.640,0.938),(0.646,0.915),(0.648,0.890),(0.616,0.954),
          (0.616,0.963),(0.682,0.961),(0.664,0.950),(0.705,0.933),(0.704,0.918),(0.696,0.896),
          (0.718,0.885),(0.715,0.892),(0.753,0.888),(0.756,0.880),(0.757,0.876),(0.743,0.903),
          (0.761,0.904),(0.781,0.918),(0.781,0.895),(0.791,0.897),(0.797,0.903),(0.793,0.934),
          (0.805,0.930),(0.825,0.926),(0.835,0.922),(0.811,0.918),(0.817,0.905),(0.815,0.892),
          (0.861,0.938),(0.889,0.926),(0.895,0.927),(0.895,0.892),(0.867,0.887),(0.867,0.881),
          (0.875,0.873),(0.829,0.956),(0.831,0.953),(0.855,0.994),(0.841,0.990),(0.887,0.990),
          (0.805,0.990),(0.811,0.979),(0.797,0.962),(0.761,0.970),(0.733,0.974),(0.717,0.963),
          (0.700,0.958),(0.684,0.948),(0.692,0.955),(0.676,0.966),(0.652,0.963),(0.628,0.971),
          (0.608,0.966),(0.584,0.969),(0.777,0.987),(0.757,0.987),(0.737,0.990)]

# ---------------- axis settings ----------------
theta_lim = (0.187, 1.0215)
fdm_lim = (0.48, 0.90)
s_lim = (0.4, 1.6)
xi_lim = (0.855, 1.141)
theta_ticks = [0.2, 0.4, 0.6, 0.8, 1.0]
fdm_ticks = [0.5, 0.6, 0.7, 0.8, 0.9]
s_ticks = [0.4, 0.6, 0.8, 1.0, 1.2, 1.4, 1.6]
xi_ticks = [0.90, 0.95, 1.00, 1.05, 1.10]

fig = plt.figure(figsize=(8.3, 9.93), dpi=100)
L0, W = 0.1233, 0.4210
L1 = L0 + W
Hh, Hm = 0.1813, 0.3625
B_bot = 0.0819
B_mid = B_bot + Hm
B_top = B_mid + Hm

axes = {}
axes['hL'] = fig.add_axes([L0, B_top, W, Hh])
axes['hR'] = fig.add_axes([L1, B_top, W, Hh])
axes['mL'] = fig.add_axes([L0, B_mid, W, Hm])
axes['mR'] = fig.add_axes([L1, B_mid, W, Hm])
axes['bL'] = fig.add_axes([L0, B_bot, W, Hm])
axes['bR'] = fig.add_axes([L1, B_bot, W, Hm])

for ax in axes.values():
    ax.tick_params(direction='in', top=True, right=True, length=6, width=1,
                   labelsize=16, pad=6)
    for sp in ax.spines.values():
        sp.set_linewidth(1.3)

# histograms
edges_t = np.linspace(theta_lim[0], theta_lim[1], len(hist_theta) + 1)
edges_f = np.linspace(fdm_lim[0], fdm_lim[1], len(hist_fdm) + 1)
axes['hL'].stairs(hist_theta, edges_t, color='blue', lw=1.5, baseline=0)
axes['hR'].stairs(hist_fdm, edges_f, color='blue', lw=1.5, baseline=0)
for k in ('hL', 'hR'):
    axes[k].set_ylim(0, 1.0)
    axes[k].set_yticks([])
    axes[k].tick_params(labelbottom=False)

styles = [
    ('gray', dict(marker='x', color='#808080', ms=6.5, mew=1.5)),
    ('red', dict(marker='o', color='red', mec='red', ms=6.5, mew=0.5)),
    ('orange', dict(marker='>', color='darkorange', mec='darkorange', ms=7.5, mew=0.5)),
    ('green', dict(marker='D', color='green', mec='green', ms=6.3, mew=0.5)),
    ('blue', dict(marker='<', color='blue', mec='blue', ms=7.5, mew=0.5)),
]

panel_data = {
    'mL': {'gray': A_gray, 'red': A_red, 'orange': A_orange, 'green': A_green, 'blue': A_blue},
    'mR': {'gray': B_gray, 'red': B_red, 'orange': B_orange, 'green': B_green, 'blue': B_blue},
    'bL': {'gray': C_gray, 'red': C_red, 'orange': C_orange, 'green': C_green, 'blue': C_blue},
    'bR': {'gray': D_gray, 'red': D_red, 'orange': D_orange, 'green': D_green, 'blue': D_blue},
}

for key, groups in panel_data.items():
    ax = axes[key]
    for name, st in styles:
        pts = np.array(groups[name])
        ax.plot(pts[:, 0], pts[:, 1], ls='none', **st)
    ax.axhline(1.0, color='k', lw=1.5, zorder=5)

for k in ('hL', 'mL', 'bL'):
    axes[k].set_xlim(*theta_lim)
    axes[k].set_xticks(theta_ticks)
for k in ('hR', 'mR', 'bR'):
    axes[k].set_xlim(*fdm_lim)
    axes[k].set_xticks(fdm_ticks)

for k in ('mL', 'mR'):
    axes[k].set_ylim(*s_lim)
    axes[k].set_yticks(s_ticks)
    axes[k].tick_params(labelbottom=False)
for k in ('bL', 'bR'):
    axes[k].set_ylim(*xi_lim)
    axes[k].set_yticks(xi_ticks)
for k in ('mR', 'bR'):
    axes[k].tick_params(labelleft=False)

axes['mL'].set_yticklabels(['%.1f' % v for v in s_ticks])
axes['bL'].set_yticklabels(['%.2f' % v for v in xi_ticks])
axes['bL'].set_xticklabels(['%.1f' % v for v in theta_ticks])
axes['bR'].set_xticklabels(['%.1f' % v for v in fdm_ticks])

axes['mL'].set_ylabel('s', fontsize=17)
axes['mL'].yaxis.set_label_coords(-0.165, 0.5)
axes['bL'].set_ylabel('ξ', fontsize=17)
axes['bL'].yaxis.set_label_coords(-0.165, 0.5)
axes['bL'].set_xlabel(r'$\mathrm{\theta_{f50}/\theta_E}$', fontsize=16)
axes['bR'].set_xlabel(r'$\mathrm{f_{dm}(\theta_E\ )}$', fontsize=16)
axes['bL'].xaxis.set_label_coords(0.5, -0.11)
axes['bR'].xaxis.set_label_coords(0.5, -0.11)

fig.savefig('out.png', dpi=100)
